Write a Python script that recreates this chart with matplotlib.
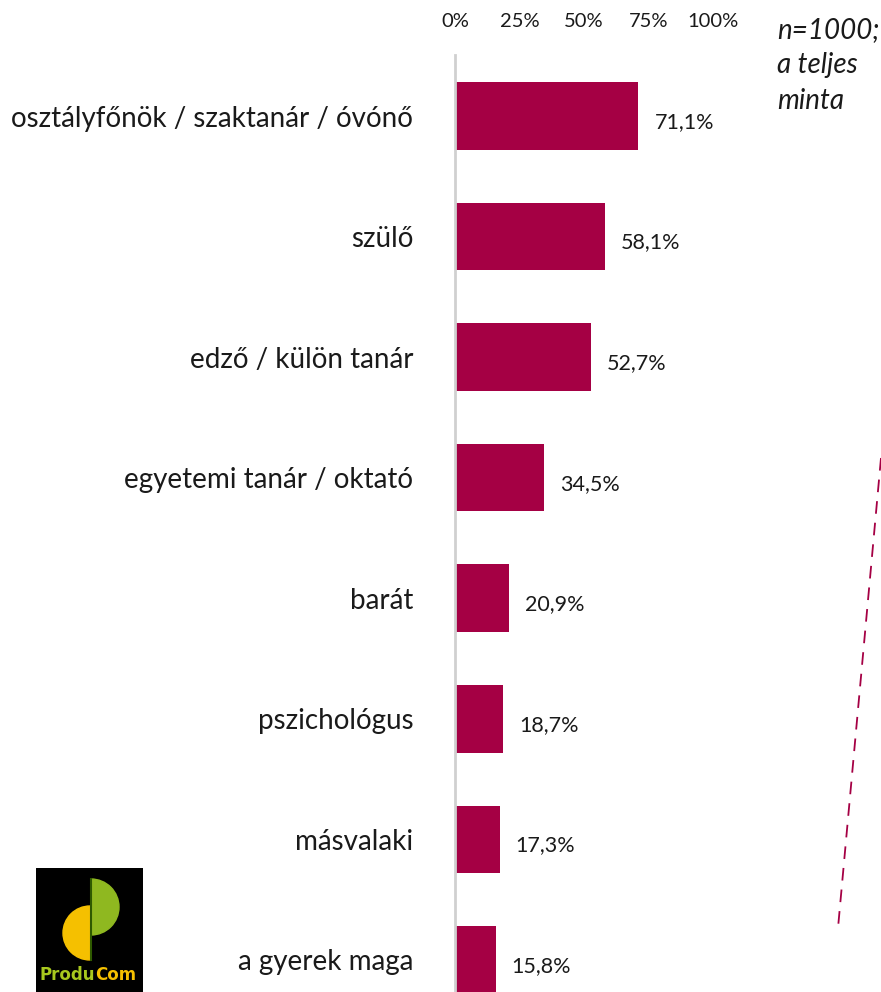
import matplotlib.pyplot as plt
from matplotlib.patches import Rectangle, Wedge
from matplotlib.lines import Line2D

categories = ["osztályfőnök / szaktanár / óvónő", "szülő", "edző / külön tanár",
              "egyetemi tanár / oktató", "barát", "pszichológus", "másvalaki",
              "a gyerek maga"]
values = [71.1, 58.1, 52.7, 34.5, 20.9, 18.7, 17.3, 15.8]
value_labels = ["71,1%", "58,1%", "52,7%", "34,5%", "20,9%", "18,7%", "17,3%", "15,8%"]
ticks = [0, 25, 50, 75, 100]
tick_labels = ["0%", "25%", "50%", "75%", "100%"]

W, H = 881, 992
bar_color = "#A50044"
plt.rcParams['font.family'] = ['Lato', 'DejaVu Sans']

fig = plt.figure(figsize=(W / 100, H / 100), dpi=100)
ax = fig.add_axes([455 / W, 0, (W - 455) / W, (992 - 55) / H])

pos = list(range(len(values)))
ax.barh(pos, values, height=0.56, color=bar_color)
ax.set_xlim(0, 100 * (W - 455) / 258)
ax.set_ylim(7.266, -0.506)

for p, v, lab in zip(pos, values, value_labels):
    ax.text(v + 6.2, p + 0.05, lab, va="center", ha="left", fontsize=15.5, color="#1a1a1a")

ax.set_yticks(pos)
ax.set_yticklabels(categories, fontsize=20, color="#1a1a1a")
ax.tick_params(axis="y", length=0, pad=30)
ax.set_xticks(ticks)
ax.set_xticklabels(tick_labels, fontsize=14.5, color="#1a1a1a")
ax.xaxis.tick_top()
ax.tick_params(axis="x", length=0, pad=18)

for s in ["top", "right", "bottom"]:
    ax.spines[s].set_visible(False)
ax.spines["left"].set_color("#d0d0d0")
ax.spines["left"].set_linewidth(2)

# sample note
fig.text(777 / W, 1 - 17 / H, "n=1000;\na teljes\nminta", ha="left", va="top",
         fontsize=20, style="italic", color="#1a1a1a", linespacing=1.45)

# dashed line
fig.add_artist(Line2D([881 / W, 838 / W], [1 - 458 / H, 1 - 928 / H],
                      transform=fig.transFigure, color=bar_color, lw=1.3,
                      linestyle=(0, (7, 5))))

# logo
lax = fig.add_axes([36 / W, 0, 107 / W, 124 / H])
lax.set_xlim(0, 107)
lax.set_ylim(0, 124)
lax.axis("off")
lax.add_patch(Rectangle((0, 0), 107, 124, color="black", zorder=0))
lax.add_patch(Wedge((54, 59), 27, 90, 270, color="#f5c000", zorder=1))
lax.add_patch(Wedge((55, 85), 28, -90, 90, color="#8fb820", zorder=1))
lax.plot([54.5, 54.5], [32, 113], color="#2f5a00", lw=1.5, zorder=2)
lax.text(59, 17, "Produ", color="#a8c81e", fontsize=12, fontweight="bold",
         va="center", ha="right", zorder=3, family="Liberation Sans Narrow")
lax.text(59, 17, "Com", color="#f5c000", fontsize=12, fontweight="bold",
         va="center", ha="left", zorder=3, family="Liberation Sans Narrow")

fig.savefig("out.png", dpi=100)
